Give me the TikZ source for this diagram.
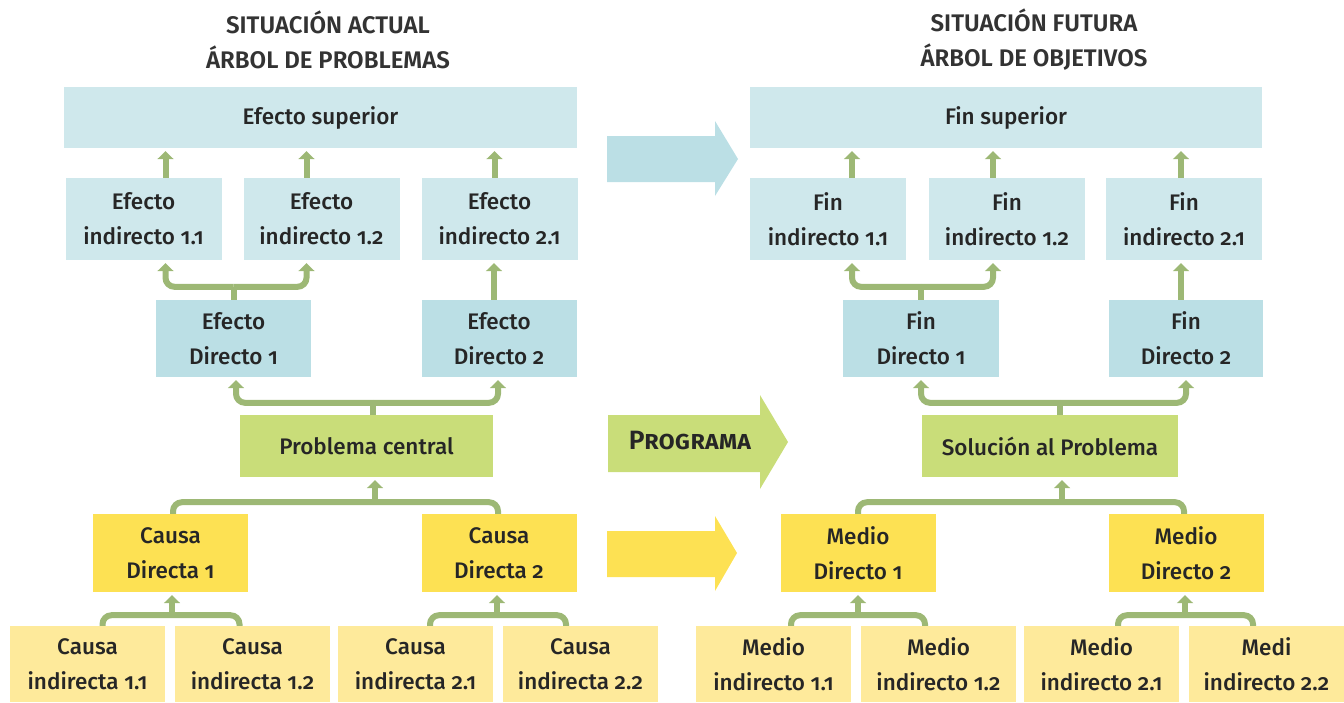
\documentclass[tikz,border=0pt]{standalone}
\usepackage{fontspec}
\setmainfont{Fira Sans}[UprightFont=* Medium, BoldFont=* SemiBold, Numbers=OldStyle]
\usepackage{tikz}
\usetikzlibrary{arrows.meta}
\definecolor{treeText}{HTML}{262626}
\definecolor{treeTitle}{HTML}{333333}
\definecolor{blueLight}{HTML}{CFE8EC}
\definecolor{blueDirect}{HTML}{BBDFE5}
\definecolor{greenCore}{HTML}{C9DD79}
\definecolor{yellowDirect}{HTML}{FDE153}
\definecolor{yellowLight}{HTML}{FEEA9B}
\definecolor{linkGreen}{HTML}{9DB875}

\begin{document}
\begin{tikzpicture}[x=1pt, y=-1pt,
    box/.style={inner sep=0pt, align=center, text=treeText, font=\fontsize{22.5}{35}\selectfont},
    topbox/.style={box, fill=blueLight, minimum width=513pt, minimum height=61pt},
    indbox/.style={box, fill=blueLight, minimum width=156pt, minimum height=82pt},
    dirbox/.style={box, fill=blueDirect, minimum width=155pt, minimum height=77pt},
    corebox/.style={box, fill=greenCore, minimum height=62pt},
    meanbox/.style={box, fill=yellowDirect, minimum width=155pt, minimum height=78pt},
    rootbox/.style={box, fill=yellowLight, minimum width=155pt, minimum height=76pt},
    heading/.style={align=center, text=treeTitle, font=\bfseries\fontsize{24}{35}\selectfont},
    link/.style={draw=linkGreen, line width=6pt, rounded corners=9pt},
    tip/.style={-{Triangle[width=16pt,length=8pt]}, shorten >=3pt}]

  \useasboundingbox (0,0) rectangle (1344,702);

  % titles
  \node[heading] (tleft) at (328,40) {SITUACIÓN ACTUAL\\ÁRBOL DE PROBLEMAS};
  \node[heading] (tright) at (1034,40) {SITUACIÓN FUTURA\\ÁRBOL DE OBJETIVOS};

  % arbol de problemas
  \node[topbox] (esup) at (320.5,117.5) {Efecto superior};
  \node[indbox] (ei11) at (143.5,219) {Efecto\\indirecto 1.1};
  \node[indbox] (ei12) at (321.5,219) {Efecto\\indirecto 1.2};
  \node[indbox] (ei21) at (499.5,219) {Efecto\\indirecto 2.1};
  \node[dirbox] (ed1) at (233.5,338.5) {Efecto\\Directo 1};
  \node[dirbox] (ed2) at (499,338.5) {Efecto\\Directo 2};
  \node[corebox, minimum width=253pt] (pc) at (366.5,446) {Problema central};
  \node[meanbox] (cd1) at (170.5,553) {Causa\\Directa 1};
  \node[meanbox] (cd2) at (499,553) {Causa\\Directa 2};
  \node[rootbox] (ci11) at (87.5,664) {Causa\\indirecta 1.1};
  \node[rootbox] (ci12) at (252.5,664) {Causa\\indirecta 1.2};
  \node[rootbox] (ci21) at (415.5,664) {Causa\\indirecta 2.1};
  \node[rootbox] (ci22) at (580.5,664) {Causa\\indirecta 2.2};

  % arbol de objetivos
  \node[topbox, minimum width=512pt] (fsup) at (1006,117.5) {Fin superior};
  \node[indbox] (fi11) at (828,219) {Fin\\indirecto 1.1};
  \node[indbox] (fi12) at (1007,219) {Fin\\indirecto 1.2};
  \node[indbox] (fi21) at (1184,219) {Fin\\indirecto 2.1};
  \node[dirbox, minimum width=156pt] (fd1) at (921,338.5) {Fin\\Directo 1};
  \node[dirbox, minimum width=154pt] (fd2) at (1186,338.5) {Fin\\Directo 2};
  \node[corebox, minimum width=256pt] (sp) at (1050,446) {Solución al Problema};
  \node[meanbox] (md1) at (858,553) {Medio\\Directo 1};
  \node[meanbox] (md2) at (1186,553) {Medio\\Directo 2};
  \node[rootbox] (mi11) at (773.5,664) {Medio\\indirecto 1.1};
  \node[rootbox] (mi12) at (938.5,664) {Medio\\indirecto 1.2};
  \node[rootbox] (mi21) at (1101.5,664) {Medio\\indirecto 2.1};
  \node[rootbox] (mi22) at (1266.5,664) {Medi\\indirecto 2.2};

  % flechas grandes
  \fill[blueDirect] (607,136) -- (715,136) -- (715,121) -- (738,159) -- (715,196) -- (715,182) -- (607,182) -- cycle;
  \fill[greenCore] (608,415) -- (760,415) -- (760,395) -- (788,442) -- (760,489) -- (760,472) -- (608,472) -- cycle;
  \fill[yellowDirect] (607,531) -- (715,531) -- (715,516) -- (737,553) -- (715,591) -- (715,577) -- (607,577) -- cycle;
  \node[text=treeText, font=\bfseries\fontsize{26.5}{30}\selectfont] (prog) at (690,441) {\textsc{Programa}};

  % conectores, problemas
  \draw[link,tip] ([xshift=22pt]ei11.north) -- ([xshift=22pt]ei11.north |- esup.south);
  \draw[link,tip] ([xshift=-15pt]ei12.north) -- ([xshift=-15pt]ei12.north |- esup.south);
  \draw[link,tip] ([xshift=-5pt]ei21.north) -- ([xshift=-5pt]ei21.north |- esup.south);
  \coordinate (j1) at ([yshift=13pt]ed1.north);
  \draw[link] (ed1.north) -- (j1);
  \draw[link,tip] (j1) -| ([xshift=22pt]ei11.south);
  \draw[link,tip] (j1) -| ([xshift=-15pt]ei12.south);
  \draw[link,tip] ([xshift=-5pt]ed2.north) -- ([xshift=-5pt]ed2.north |- ei21.south);
  \coordinate (j2) at ([xshift=6.5pt,yshift=12pt]pc.north);
  \draw[link] (j2 |- pc.north) -- (j2);
  \draw[link,tip] (j2) -| ([xshift=2.5pt]ed1.south);
  \draw[link,tip] (j2) -| ([xshift=-1pt]ed2.south);
  \coordinate (j3) at ([xshift=8.5pt,yshift=-25pt]pc.south);
  \draw[link] ([xshift=2.5pt]cd1.north) |- (j3) -| ([xshift=-1pt]cd2.north);
  \draw[link,tip] (j3) -- (j3 |- pc.south);
  \coordinate (j4) at ([xshift=1.5pt,yshift=-23pt]cd1.south);
  \draw[link] ([xshift=15pt]ci11.north) |- (j4) -| ([xshift=-13pt]ci12.north);
  \draw[link,tip] (j4) -- (j4 |- cd1.south);
  \coordinate (j5) at ([xshift=-2pt,yshift=-23pt]cd2.south);
  \draw[link] ([xshift=14.5pt]ci21.north) |- (j5) -| ([xshift=-14.5pt]ci22.north);
  \draw[link,tip] (j5) -- (j5 |- cd2.south);

  % conectores, objetivos
  \draw[link,tip] ([xshift=24pt]fi11.north) -- ([xshift=24pt]fi11.north |- fsup.south);
  \draw[link,tip] ([xshift=-14pt]fi12.north) -- ([xshift=-14pt]fi12.north |- fsup.south);
  \draw[link,tip] ([xshift=-3pt]fi21.north) -- ([xshift=-3pt]fi21.north |- fsup.south);
  \coordinate (k1) at ([yshift=13pt]fd1.north);
  \draw[link] (fd1.north) -- (k1);
  \draw[link,tip] (k1) -| ([xshift=24pt]fi11.south);
  \draw[link,tip] (k1) -| ([xshift=-14pt]fi12.south);
  \draw[link,tip] ([xshift=-5pt]fd2.north) -- ([xshift=-5pt]fd2.north |- fi21.south);
  \coordinate (k2) at ([xshift=10pt,yshift=12pt]sp.north);
  \draw[link] (k2 |- sp.north) -- (k2);
  \draw[link,tip] (k2) -| (fd1.south);
  \draw[link,tip] (k2) -| (fd2.south);
  \coordinate (k3) at ([xshift=12pt,yshift=-25pt]sp.south);
  \draw[link] (md1.north) |- (k3) -| ([xshift=-2pt]md2.north);
  \draw[link,tip] (k3) -- (k3 |- sp.south);
  \coordinate (k4) at ([yshift=-23pt]md1.south);
  \draw[link] ([xshift=17.5pt]mi11.north) |- (k4) -| ([xshift=-13.5pt]mi12.north);
  \draw[link,tip] (k4) -- (k4 |- md1.south);
  \coordinate (k5) at ([xshift=-1pt,yshift=-23pt]md2.south);
  \draw[link] ([xshift=16.5pt]mi21.north) |- (k5) -| ([xshift=-13.5pt]mi22.north);
  \draw[link,tip] (k5) -- (k5 |- md2.south);
\end{tikzpicture}
\end{document}
